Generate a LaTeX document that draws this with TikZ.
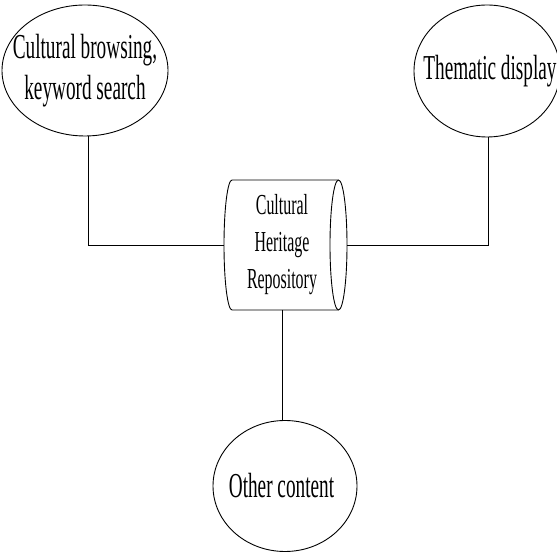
\documentclass[tikz,border=0pt]{standalone}
\usepackage{fontspec}
\usetikzlibrary{shapes.geometric,calc}
\newfontfamily\narrowserif[FakeStretch=0.55]{Liberation Serif}
\begin{document}
\begin{tikzpicture}[x=1pt,y=1pt,line width=0.9pt,
  bubble/.style={draw,ellipse,inner sep=0pt,outer sep=0pt},
  bigtext/.style={align=center,inner sep=0pt,
    font=\narrowserif\fontsize{35}{40.6}\selectfont},
  repotext/.style={align=center,inner sep=0pt,
    font=\narrowserif\fontsize{29}{37}\selectfont},
  repobox/.style={inner sep=0pt,outer sep=0pt,minimum width=123pt,minimum height=130pt}]
\useasboundingbox (0,0) rectangle (557,554);

% outer ellipses
\node[bubble,minimum width=166pt,minimum height=131pt] (A) at (85,483.5) {};
\node[bigtext] (Atext) at (A) {Cultural browsing,\\keyword search};

\node[bubble,minimum width=146pt,minimum height=132pt] (B) at (487,483) {};
\node[bigtext] (Btext) at (490,483) {Thematic display};

\node[bubble,minimum width=144pt,minimum height=131pt] (C) at (285,68) {};
\node[bigtext] (Ctext) at (281.5,68) {Other content};

% repository drum
\node[repobox] (R) at (285.5,309) {};
\node[repotext] (Rtext) at (282,309) {Cultural\\Heritage\\Repository};
\draw ($(R.north west)+(8,0)$)
    arc[start angle=90,end angle=270,x radius=8,y radius=65]
    -- ($(R.south east)+(-8.5,0)$)
    arc[start angle=-90,end angle=90,x radius=8.5,y radius=65]
    -- cycle;
\draw ($(R.north east)+(-8.5,0)$)
    arc[start angle=90,end angle=270,x radius=8.5,y radius=65];

% connectors
\draw (A.-87.5) |- (R.west);
\draw (B.-89) |- (R.east);
\draw (Rtext |- R.south) -- (Rtext |- C.north);
\end{tikzpicture}
\end{document}
